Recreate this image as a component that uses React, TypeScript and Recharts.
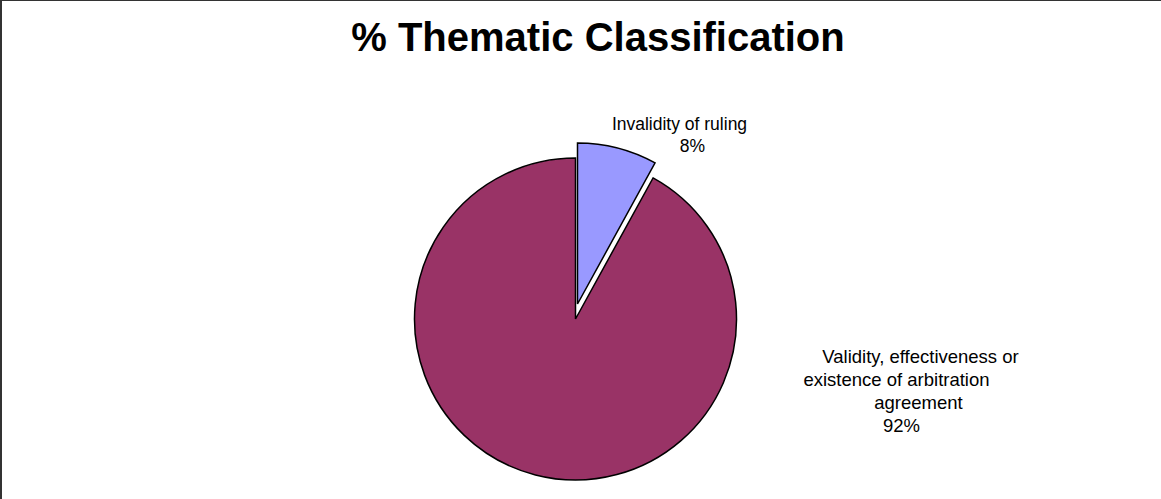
import React from "react";
import { PieChart, Pie, Cell } from "recharts";

const categories = [
  "Invalidity of ruling",
  "Validity, effectiveness or existence of arbitration agreement",
];
const shares = [8, 92];
const sliceColors = ["#9999FF", "#993366"];

// label text, line by line, as the original wraps it
const labelLines = [
  ["Invalidity of ruling", "8%"],
  ["Validity, effectiveness or", "existence of arbitration", "agreement", "92%"],
];

const data = categories.map((name, i) => ({ name, value: shares[i] }));

const W = 1161;
const H = 499;
const CX = 575.5;
const CY = 319;
const R = 161;

// exploded slice offset
const EX = 2;
const EY = -15;

// per-line centre offsets from pie centre (Excel wrap looks a bit off-centre)
const lineDx = [
  [104, 117],
  [345, 321, 343, 326],
];
const lineDy = [
  [-189, -167],
  [44, 67, 90, 113],
];
const labelSize = [17.5, 18.5];

const renderLabel = (props: any) => {
  const { cx, cy, index } = props;
  const lines = labelLines[index];
  return (
    <g>
      {lines.map((t, j) => (
        <text
          key={j}
          x={cx + lineDx[index][j]}
          y={cy + lineDy[index][j]}
          textAnchor="middle"
          fontSize={labelSize[index]}
          fontFamily="'Liberation Sans', Arial, sans-serif"
          fill="#000"
        >
          {t}
        </text>
      ))}
    </g>
  );
};

export default function App() {
  return (
    <div
      style={{
        position: "fixed",
        left: 0,
        top: 0,
        width: W,
        height: H,
        background: "#fff",
        borderTop: "1px solid #333",
        borderLeft: "2px solid #333",
        boxSizing: "border-box",
      }}
    >
      <div
        style={{
          position: "absolute",
          left: 0,
          top: 6,
          width: W,
          textAlign: "center",
          fontFamily: "'Liberation Sans', Arial, sans-serif",
          fontWeight: "bold",
          fontSize: 40,
          lineHeight: "60px",
          paddingLeft: 31,
          boxSizing: "border-box",
          color: "#000",
        }}
      >
        % Thematic Classification
      </div>
      <div style={{ position: "absolute", left: -2, top: -1 }}>
        <PieChart width={W} height={H} margin={{ top: 0, right: 0, bottom: 0, left: 0 }}>
          {/* big slice, small one left empty */}
          <Pie
            data={data}
            dataKey="value"
            cx={CX}
            cy={CY}
            outerRadius={R}
            startAngle={90}
            endAngle={-270}
            isAnimationActive={false}
            labelLine={false}
            label={renderLabel}
          >
            {data.map((d, i) => (
              <Cell
                key={d.name}
                fill={i === 0 ? "none" : sliceColors[i]}
                stroke={i === 0 ? "none" : "#000"}
                strokeWidth={1.5}
              />
            ))}
          </Pie>
          {/* exploded small slice */}
          <Pie
            data={data}
            dataKey="value"
            cx={CX + EX}
            cy={CY + EY}
            outerRadius={R}
            startAngle={90}
            endAngle={-270}
            isAnimationActive={false}
            labelLine={false}
          >
            {data.map((d, i) => (
              <Cell
                key={d.name}
                fill={i === 0 ? sliceColors[i] : "none"}
                stroke={i === 0 ? "#000" : "none"}
                strokeWidth={1.5}
              />
            ))}
          </Pie>
        </PieChart>
      </div>
    </div>
  );
}
